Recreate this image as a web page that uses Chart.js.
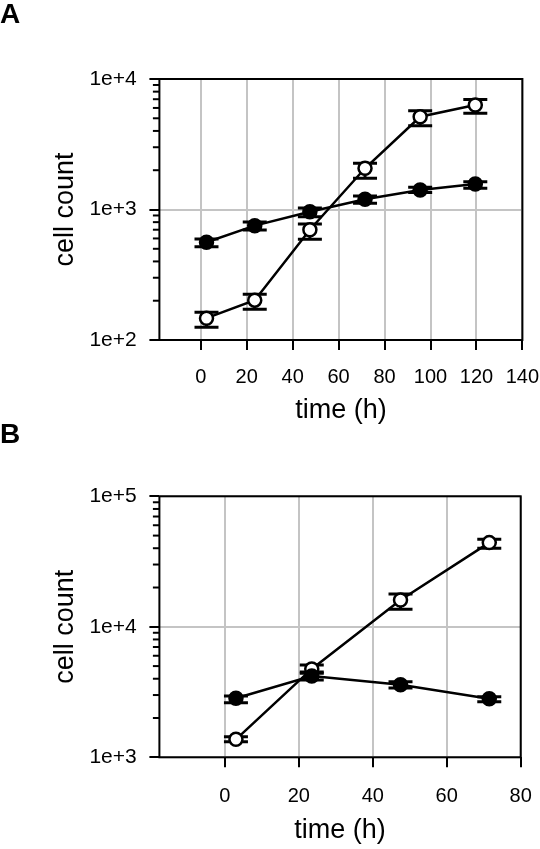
<!DOCTYPE html>
<html>
<head>
<meta charset="utf-8">
<script src="https://cdn.jsdelivr.net/npm/chart.js@4.4.1/dist/chart.umd.min.js"></script>
<style>
    html, body { margin: 0; padding: 0; background: #fff; }
    body { width: 540px; height: 849px; position: relative; overflow: hidden; font-family: "Liberation Sans", Arial, sans-serif; }
    .panel { position: absolute; left: 0; width: 540px; }
    .panel canvas { display: block; }
    .tag { position: absolute; left: 0; font-weight: bold; font-size: 28px; line-height: 28px; color: #000; }
</style>
</head>
<body>
<div class="panel" style="top:0;height:424px"><canvas id="chart-a" width="540" height="424"></canvas></div>
<div class="panel" style="top:424px;height:425px"><canvas id="chart-b" width="540" height="425"></canvas></div>
<div class="tag" style="top:0px">A</div>
<div class="tag" style="top:420px">B</div>
<script>
(function() {
    'use strict';

    // panel A
    const timeA = [2.5, 23.5, 47.5, 71.5, 95.5, 119.5];
    const filledA = [561, 752, 961, 1197, 1410, 1570];
    const filledAHi = [594, 802, 1027, 1268, 1480, 1633];
    const filledALo = [519, 696, 881, 1116, 1350, 1453];
    const openA = [147, 202, 700, 2070, 5140, 6320];
    const openAHi = [163, 224, 774, 2259, 5715, 6980];
    const openALo = [125, 172, 591, 1734, 4385, 5460];
    const xTicksA = [0, 20, 40, 60, 80, 100, 120, 140];
    const yDecadesA = [100, 1000, 10000];

    // panel B
    const timeB = [3, 23.5, 47.5, 71.5];
    const filledB = [2832, 4198, 3600, 2810];
    const filledBHi = [2951, 4510, 3800, 2910];
    const filledBLo = [2620, 3910, 3400, 2665];
    const openB = [1374, 4755, 16030, 44160];
    const openBHi = [1438, 5093, 17820, 46780];
    const openBLo = [1317, 4402, 13620, 39950];
    const xTicksB = [0, 20, 40, 60, 80];
    const yDecadesB = [1000, 10000, 100000];

    const GRID = '#c4c4c4';
    Chart.defaults.font.family = '"Liberation Sans", Arial, sans-serif';
    Chart.defaults.color = '#000';

    // decade ticks plus the 2..9 minor ticks between them
    function logTicks(decades) {
        const ticks = [];
        decades.forEach((d, i) => {
            ticks.push({ value: d, major: true });
            if (i < decades.length - 1) {
                for (let m = 2; m <= 9; m++) ticks.push({ value: d * m, major: false });
            }
        });
        return ticks;
    }

    const errorBars = {
        id: 'errorBars',
        beforeDatasetsDraw(chart) {
            const { ctx, chartArea, scales: { x, y } } = chart;
            ctx.save();
            ctx.strokeStyle = '#000';

            // frame
            ctx.lineWidth = 2;
            ctx.strokeRect(chartArea.left, chartArea.top, chartArea.right - chartArea.left, chartArea.bottom - chartArea.top);

            // short minor ticks on the y axis
            y.ticks.forEach(t => {
                if (t.major) return;
                const py = y.getPixelForValue(t.value);
                ctx.beginPath();
                ctx.moveTo(chartArea.left - 6.5, py);
                ctx.lineTo(chartArea.left, py);
                ctx.stroke();
            });

            ctx.lineWidth = 3;
            chart.data.datasets.forEach(ds => {
                ds.data.forEach((pt, i) => {
                    const px = x.getPixelForValue(pt.x);
                    const top = y.getPixelForValue(ds.hi[i]);
                    const bot = y.getPixelForValue(ds.lo[i]);
                    ctx.beginPath();
                    ctx.moveTo(px, top);
                    ctx.lineTo(px, bot);
                    ctx.moveTo(px - 12, top);
                    ctx.lineTo(px + 12, top);
                    ctx.moveTo(px - 12, bot);
                    ctx.lineTo(px + 12, bot);
                    ctx.stroke();
                });
            });
            ctx.restore();
        }
    };

    function series(times, values, hi, lo, fill) {
        return {
            data: times.map((t, i) => ({ x: t, y: values[i] })),
            hi: hi,
            lo: lo,
            borderColor: '#000',
            borderWidth: 2.5,
            pointRadius: 6.5,
            pointBorderWidth: 2.5,
            pointBorderColor: '#000',
            pointBackgroundColor: fill,
            tension: 0
        };
    }

    function renderPanel(id, cfg) {
        const ctx = document.getElementById(id);
        if (!ctx) return;

        new Chart(ctx, {
            type: 'line',
            data: {
                datasets: [
                    series(cfg.time, cfg.filled, cfg.filledHi, cfg.filledLo, '#000'),
                    series(cfg.time, cfg.open, cfg.openHi, cfg.openLo, '#fff')
                ]
            },
            options: {
                responsive: false,
                animation: false,
                layout: { padding: { top: cfg.top, right: cfg.right, bottom: 0, left: 0 } },
                plugins: { legend: { display: false }, tooltip: { enabled: false } },
                scales: {
                    x: {
                        type: 'linear',
                        min: cfg.xMin,
                        max: cfg.xTicks[cfg.xTicks.length - 1],
                        afterBuildTicks: s => { s.ticks = cfg.xTicks.map(v => ({ value: v })); },
                        afterFit: s => {
                            s.height = cfg.xHeight;
                            s.paddingLeft = 0;
                            s.paddingRight = 0;
                        },
                        border: { display: false },
                        grid: { color: GRID, lineWidth: 2, tickLength: 10, tickColor: '#000', tickWidth: 2 },
                        ticks: { padding: cfg.xPad, maxRotation: 0, autoSkip: false, font: { size: 20 } },
                        title: {
                            display: true,
                            text: 'time (h)',
                            font: { size: 27, lineHeight: 1 },
                            padding: { top: 0, bottom: cfg.titlePad }
                        }
                    },
                    y: {
                        type: 'logarithmic',
                        min: cfg.yDecades[0],
                        max: cfg.yDecades[cfg.yDecades.length - 1],
                        afterBuildTicks: s => { s.ticks = logTicks(cfg.yDecades); },
                        afterFit: s => {
                            s.width = 159.4;
                            s.paddingTop = 0;
                            s.paddingBottom = 0;
                        },
                        border: { display: false },
                        grid: {
                            color: c => (c.tick && c.tick.major ? GRID : 'rgba(0,0,0,0)'),
                            lineWidth: 2,
                            tickLength: 10,
                            tickWidth: 2,
                            tickColor: c => (c.tick && c.tick.major ? '#000' : 'rgba(0,0,0,0)')
                        },
                        ticks: {
                            autoSkip: false,
                            padding: 12.7,
                            font: { size: 21 },
                            callback: v => {
                                const e = Math.log10(v);
                                return Math.abs(e - Math.round(e)) < 1e-9 ? '1e+' + Math.round(e) : '';
                            }
                        },
                        title: {
                            display: true,
                            text: 'cell count',
                            font: { size: 27, lineHeight: 1 },
                            padding: { top: 52, bottom: 0 }
                        }
                    }
                }
            },
            plugins: [errorBars]
        });
    }

    renderPanel('chart-a', {
        time: timeA, filled: filledA, filledHi: filledAHi, filledLo: filledALo,
        open: openA, openHi: openAHi, openLo: openALo,
        xTicks: xTicksA, xMin: -18, yDecades: yDecadesA,
        top: 79, right: 17.6, xHeight: 84, xPad: 15.5, titlePad: 0
    });

    renderPanel('chart-b', {
        time: timeB, filled: filledB, filledHi: filledBHi, filledLo: filledBLo,
        open: openB, openHi: openBHi, openLo: openBLo,
        xTicks: xTicksB, xMin: -17.7, yDecades: yDecadesB,
        top: 72.3, right: 19.3, xHeight: 91.7, xPad: 17, titlePad: 4.5
    });
})();
</script>
</body>
</html>
